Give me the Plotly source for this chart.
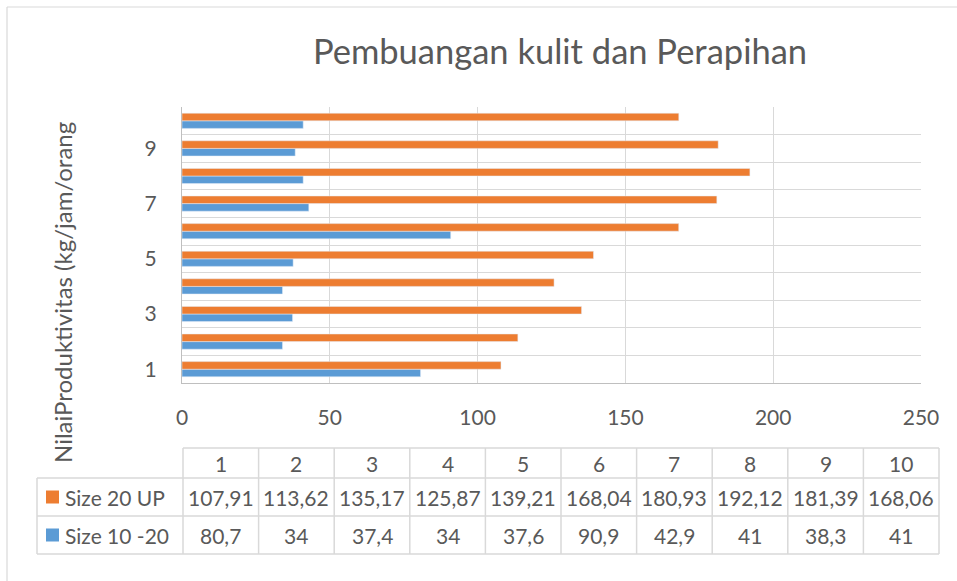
import plotly.graph_objects as go

categories = [1, 2, 3, 4, 5, 6, 7, 8, 9, 10]
size_20_up = [107.91, 113.62, 135.17, 125.87, 139.21, 168.04, 180.93, 192.12, 181.39, 168.06]
size_10_20 = [80.7, 34, 37.4, 34, 37.6, 90.9, 42.9, 41, 38.3, 41]
series_names = ["Size 20 UP", "Size 10 -20"]
title_text = "Pembuangan kulit dan Perapihan"
y_title = "NilaiProduktivitas (kg/jam/orang"

ORANGE = "#ED7D31"
BLUE = "#5B9BD5"
TXT = "#595959"
GRID = "#D9D9D9"
FONT = "Lato"

W, H = 957, 581
L, R, T, B = 182, 36, 107, 198
PW, PH = W - L - R, H - T - B


def px(x):
    return (x - L) / PW


def py(y):
    return (H - B - y) / PH


def fmt(v):
    s = ("%g" % v)
    return s.replace(".", ",")


fig = go.Figure()
fig.add_trace(go.Bar(y=categories, x=size_10_20, orientation="h", name=series_names[1],
                     marker=dict(color=BLUE), showlegend=False))
fig.add_trace(go.Bar(y=categories, x=size_20_up, orientation="h", name=series_names[0],
                     marker=dict(color=ORANGE), showlegend=False))

fig.update_layout(
    width=W, height=H,
    margin=dict(l=L, r=R, t=T, b=B),
    paper_bgcolor="white", plot_bgcolor="white",
    barmode="group", bargap=0.45, bargroupgap=0,
    font=dict(family=FONT, color=TXT),
    title=dict(text=title_text, x=px(560), xref="paper", xanchor="center",
               y=1 - 52 / H, yanchor="middle", font=dict(size=34.5, color=TXT, family=FONT)),
    xaxis=dict(range=[0, 250], dtick=50, tick0=0, showgrid=True, gridcolor=GRID, gridwidth=1,
               zeroline=False, showline=True, linecolor="#BFBFBF", linewidth=1.2,
               ticks="", ticklabelstandoff=16,
               tickfont=dict(size=21, color=TXT)),
    yaxis=dict(range=[0.5, 10.5], tickvals=[1, 3, 5, 7, 9], showgrid=False, zeroline=False,
               showline=True, linecolor="#BFBFBF", linewidth=1.2,
               ticks="", ticklabelstandoff=20,
               tickfont=dict(size=21, color=TXT),
               minor=dict(showgrid=True, tick0=0.5, dtick=1, gridcolor=GRID, gridwidth=1)),
)

shapes = []
annotations = []
# chart area border (top and left visible)
shapes.append(dict(type="line", xref="paper", yref="paper", x0=px(7), x1=px(960), y0=py(7), y1=py(7),
                   line=dict(color=GRID, width=1.2)))
shapes.append(dict(type="line", xref="paper", yref="paper", x0=px(7), x1=px(7), y0=py(7), y1=py(590),
                   line=dict(color=GRID, width=1.2)))

# data table
tx0, tx1 = 183, 939
lx0 = 37
r0, r1, r2, r3 = 448, 478, 516, 554
cw = (tx1 - tx0) / len(categories)
lc = dict(color=GRID, width=1.5)
shapes.append(dict(type="line", xref="paper", yref="paper", x0=px(tx0), x1=px(tx1), y0=py(r0), y1=py(r0), line=lc))
for yy in (r1, r2, r3):
    shapes.append(dict(type="line", xref="paper", yref="paper", x0=px(lx0), x1=px(tx1), y0=py(yy), y1=py(yy), line=lc))
shapes.append(dict(type="line", xref="paper", yref="paper", x0=px(lx0), x1=px(lx0), y0=py(r1), y1=py(r3), line=lc))
for i in range(len(categories) + 1):
    xx = tx0 + i * cw
    shapes.append(dict(type="line", xref="paper", yref="paper", x0=px(xx), x1=px(xx), y0=py(r0), y1=py(r3), line=lc))

rows = [(r0, r1, [str(c) for c in categories]),
        (r1, r2, [fmt(v) for v in size_20_up]),
        (r2, r3, [fmt(v) for v in size_10_20])]
for (ya, yb, texts) in rows:
    for i, t in enumerate(texts):
        annotations.append(dict(xref="paper", yref="paper", x=px(tx0 + (i + 0.5) * cw), y=py((ya + yb) / 2),
                                text=t, showarrow=False, xanchor="center", yanchor="middle",
                                font=dict(size=21, color=TXT, family=FONT)))

for (ya, yb, name, col) in [(r1, r2, series_names[0], ORANGE), (r2, r3, series_names[1], BLUE)]:
    yc = (ya + yb) / 2
    shapes.append(dict(type="rect", xref="paper", yref="paper", x0=px(46), x1=px(59),
                       y0=py(yc - 6.5), y1=py(yc + 6.5), fillcolor=col, line=dict(width=0)))
    annotations.append(dict(xref="paper", yref="paper", x=px(63), y=py(yc), text=name, showarrow=False,
                            xanchor="left", yanchor="middle", font=dict(size=21, color=TXT, family=FONT)))

annotations.append(dict(xref="paper", yref="paper", x=px(62), y=py(293), text=y_title, textangle=-90,
                        showarrow=False, xanchor="center", yanchor="middle",
                        font=dict(size=24, color=TXT, family=FONT)))

fig.update_layout(shapes=shapes, annotations=annotations)
fig.write_html("out.html", config={"displayModeBar": False},
               post_script="document.body.style.margin='0';")
